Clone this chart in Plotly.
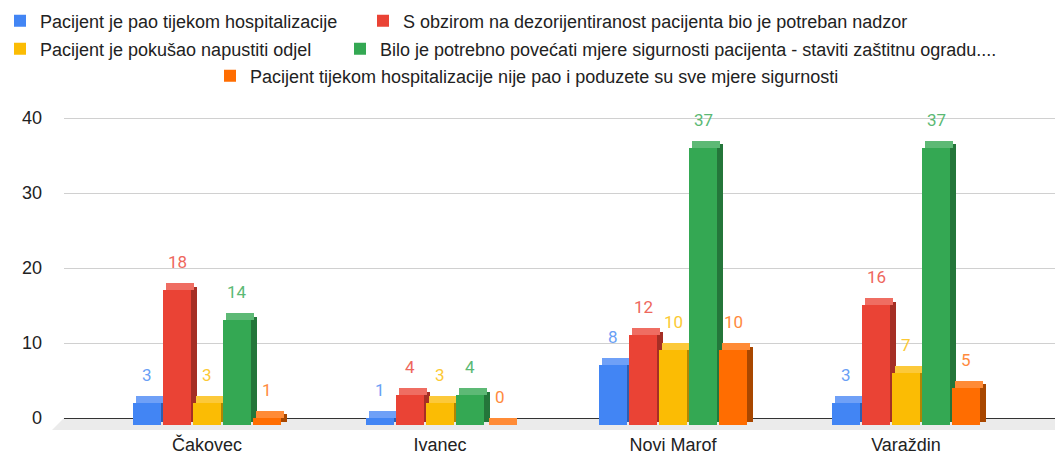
import numpy as np
import plotly.graph_objects as go

# ---------------- data ----------------
categories = ["Čakovec", "Ivanec", "Novi Marof", "Varaždin"]
series_names = [
    "Pacijent je pao tijekom hospitalizacije",
    "S obzirom na dezorijentiranost pacijenta bio je potreban nadzor",
    "Pacijent je pokušao napustiti odjel",
    "Bilo je potrebno povećati mjere sigurnosti pacijenta - staviti zaštitnu ogradu....",
    "Pacijent tijekom hospitalizacije nije pao i poduzete su sve mjere sigurnosti",
]
pao = [3, 1, 8, 3]
nadzor = [18, 4, 12, 16]
napustiti = [3, 3, 10, 7]
ograda = [14, 4, 37, 37]
nije_pao = [1, 0, 10, 5]
y_ticks = [0, 10, 20, 30, 40]

series_values = [pao, nadzor, napustiti, ograda, nije_pao]

# ---------------- styles ----------------
front_colors = ["#4285F4", "#EA4335", "#FBBC04", "#34A853", "#FF6D01"]
side_colors = ["#2E5EAF", "#A52F25", "#B08503", "#24763A", "#A84700"]
top_colors = ["#6FA0F7", "#EF6D62", "#FCC93A", "#5DB975", "#FF8B36"]
label_colors = ["#6A9FF5", "#EE675C", "#FCC934", "#5BB974", "#FF8A3D"]

PX = 233.0            # pixels per category
pitch = 30.0 / PX
front_w = 27.5 / PX
side_w = 6.0 / PX
depth = 7.0 / 7.5     # depth offset in value units

# legend assignment, item widths and positions (px)
legend_of = ["legend", "legend", "legend2", "legend3", "legend4"]
entry_w = [318, None, None, None, None]
legend_rows = {"legend": (0, 21), "legend2": (0, 49), "legend3": (340, 49), "legend4": (210, 76)}

fig = go.Figure()
idx = np.arange(len(categories))
for s, vals in enumerate(series_values):
    vals = np.array(vals, dtype=float)
    xc = idx + (s - 2) * pitch
    # side face
    fig.add_trace(go.Bar(x=xc + front_w / 2 + side_w / 2, y=vals, base=-depth / 2,
                         width=side_w, marker=dict(color=side_colors[s], line=dict(width=0)),
                         showlegend=False, hoverinfo="skip"))
    # top face
    fig.add_trace(go.Bar(x=xc + side_w / 2, y=np.full(len(vals), depth), base=vals - depth,
                         width=front_w, marker=dict(color=top_colors[s], line=dict(width=0)),
                         showlegend=False, hoverinfo="skip"))
    # front face
    kw = {}
    if entry_w[s] is not None:
        kw["legendwidth"] = entry_w[s]
    fig.add_trace(go.Bar(x=xc, y=vals, base=-depth, width=front_w, name=series_names[s],
                         marker=dict(color=front_colors[s], line=dict(width=0)),
                         legend=legend_of[s], showlegend=True, hoverinfo="skip", **kw))
    for i, v in enumerate(vals):
        fig.add_annotation(x=xc[i], y=v, text=str(int(v)), showarrow=False, yshift=21,
                           font=dict(family="Roboto", size=17, color=label_colors[s]))

# floor band
fig.add_shape(type="path", xref="paper", yref="y", layer="below",
              path="M -0.0121,-1.6 L 1,-1.6 L 1,0 L 0,0 Z",
              fillcolor="#EBEBEB", line=dict(width=0))

layout_legends = {}
for key, (lx, ly) in legend_rows.items():
    layout_legends[key] = dict(
        x=lx / 1055, y=1 - ly / 455, xref="container", yref="container",
        xanchor="left", yanchor="middle", orientation="h",
        font=dict(family="Liberation Sans", size=18, color="#222222"),
        bgcolor="rgba(0,0,0,0)", borderwidth=0, traceorder="normal",
    )

fig.update_layout(
    width=1055, height=455,
    margin=dict(l=64, r=0, t=100, b=23, autoexpand=False),
    paper_bgcolor="white", plot_bgcolor="white",
    barmode="overlay", bargap=0,
    hovermode=False,
    **layout_legends,
)
fig.update_xaxes(
    range=[(64 - 207) / PX, (1055 - 207) / PX],
    tickvals=list(idx), ticktext=categories, showgrid=False, zeroline=False,
    showline=False, ticks="",
    tickfont=dict(family="Liberation Sans", size=18, color="#222222"),
)
fig.update_yaxes(
    range=[(418 - 432) / 7.5, (418 - 100) / 7.5],
    tickvals=y_ticks, showgrid=True, gridcolor="#D0D0D0", gridwidth=1,
    zeroline=True, zerolinecolor="#333333", zerolinewidth=1,
    showline=False, ticks="", ticklabelstandoff=21,
    tickfont=dict(family="Liberation Sans", size=18, color="#222222"),
)

fig.write_html("out.html", config={"displayModeBar": False},
               post_script="document.body.style.margin='0';document.body.style.overflow='hidden';")
